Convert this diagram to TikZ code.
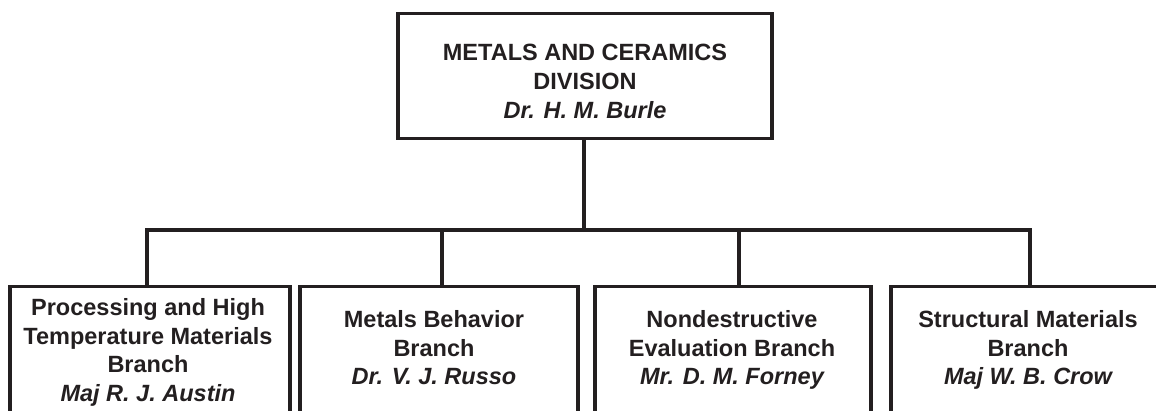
\documentclass[tikz,border=0pt]{standalone}
\usepackage{fontspec}
\setmainfont{Liberation Sans}
\definecolor{ink}{HTML}{231F20}
\begin{document}
\begin{tikzpicture}[x=1pt,y=-1pt,
  box/.style={draw=ink,line width=3.5pt,inner sep=0pt,anchor=north west},
  conn/.style={draw=ink,line width=3.5pt},
  label/.style={inner sep=0pt,anchor=north,align=center,text=ink,
     font=\fontsize{23.5}{28.8}\selectfont\bfseries}]
\useasboundingbox (0,0) rectangle (1156,411);
\clip (0,0) rectangle (1156,411);
% boxes
\node[box,minimum width=374pt,minimum height=125pt] (div) at (396,12) {};
\node[box,minimum width=280pt,minimum height=160pt] (b1) at (8,285) {};
\node[box,minimum width=278pt,minimum height=160pt] (b2) at (298,285) {};
\node[box,minimum width=276pt,minimum height=160pt] (b3) at (593,285) {};
\node[box,minimum width=281pt,minimum height=160pt] (b4) at (889,285) {};
% texts
\node[label] (tdiv) at (585,44) {METALS AND CERAMICS\\DIVISION\\\itshape Dr. H. M. Burle};
\node[label] (t1) at (148,298) {Processing and High\\Temperature Materials\\Branch\\\itshape Maj R. J. Austin};
\node[label] (t2) at (434,310) {Metals Behavior\\Branch\\\itshape Dr. V. J. Russo};
\node[label] (t3) at (732,310) {Nondestructive\\Evaluation Branch\\\itshape Mr. D. M. Forney};
\node[label] (t4) at (1028,310) {Structural Materials\\Branch\\\itshape Maj W. B. Crow};
% connectors
\coordinate (bus) at (584,230);
\draw[conn] (div.south -| bus) -- (bus);
\draw[conn] (b1.north -| 147,0) -- (147,230) -- (1030,230) -- (b4.north -| 1030,0);
\draw[conn] (442,230) -- (b2.north -| 442,0);
\draw[conn] (739,230) -- (b3.north -| 739,0);
\end{tikzpicture}
\end{document}
